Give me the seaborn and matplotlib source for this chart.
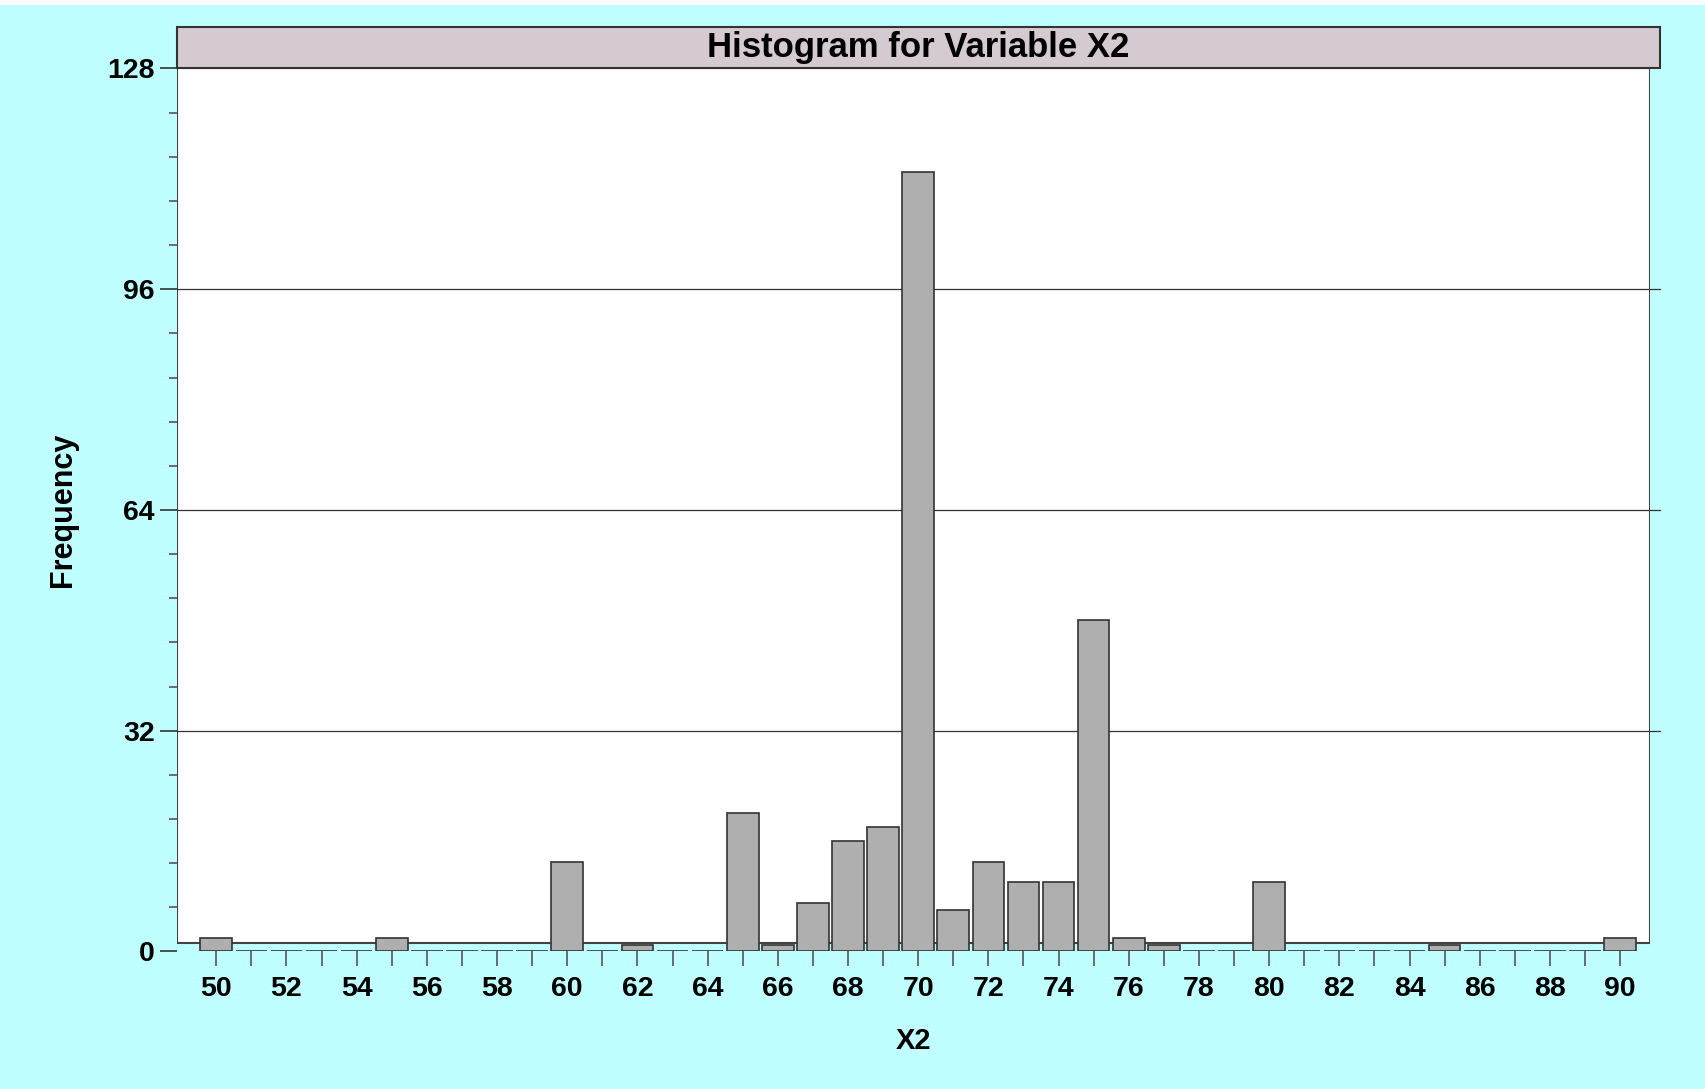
import numpy as np
import pandas as pd
import seaborn as sns
import matplotlib.pyplot as plt
from matplotlib.patches import Rectangle
from matplotlib.ticker import MultipleLocator


# =============================================================================
# DATA
# =============================================================================

# X2 values (one bin per integer) and their frequencies
X2_VALUES = list(range(50, 91))
FREQUENCIES = [2, 0, 0, 0, 0, 2, 0, 0, 0, 0,
               13, 0, 1, 0, 0, 20, 1, 7, 16, 18,
               113, 6, 13, 10, 10, 48, 2, 1, 0, 0,
               10, 0, 0, 0, 0, 1, 0, 0, 0, 0,
               2]
Y_TICKS = [0, 32, 64, 96, 128]
X_TICK_LABELS = [str(v) if v % 2 == 0 else "" for v in X2_VALUES]

TITLE = "Histogram for Variable X2"
X_LABEL = "X2"
Y_LABEL = "Frequency"

# Colours
BG_COLOR = "#C0FFFF"
TITLE_BOX_COLOR = "#D5CAD2"
BAR_COLOR = "#AFAFAF"
EDGE_COLOR = "#333333"

FONT = ["Liberation Sans", "DejaVu Sans"]


def histogram_plot(x_values, freqs, out_path="out.png"):
    """
    Draw the frequency histogram of X2 in the style of the original report.
    """
    df = pd.DataFrame({"X2": x_values, "Frequency": freqs})

    sns.set_style("white")
    plt.rcParams["font.family"] = FONT
    plt.rcParams["text.color"] = "black"
    plt.rcParams["axes.labelcolor"] = "black"
    plt.rcParams["xtick.labelcolor"] = "black"
    plt.rcParams["ytick.labelcolor"] = "black"

    fig = plt.figure(figsize=(17.05, 10.89), dpi=100, facecolor=BG_COLOR)
    # thin white strip along the top edge
    fig.add_artist(Rectangle((0, 1 - 5 / 1089), 1, 5 / 1089, transform=fig.transFigure,
                             facecolor="white", edgecolor="none"))

    ax = fig.add_axes([0.1038, 0.1263, 0.8639, 0.8108])
    ax.set_facecolor("none")

    # White plot frame, its bottom sits a little above the zero baseline
    ax.add_patch(Rectangle((0, 8.5 / 883), 1, 1 - 8.5 / 883, transform=ax.transAxes,
                           facecolor="white", edgecolor="#444444", linewidth=1.5,
                           zorder=0))

    # Horizontal grid lines (extend to the title box edge)
    for y in Y_TICKS[1:-1]:
        ax.axhline(y, xmin=0, xmax=1.0068, color="#333333", linewidth=0.9,
                   zorder=1, clip_on=False)

    sns.barplot(data=df, x="X2", y="Frequency", native_scale=True, width=0.9,
                color=BAR_COLOR, saturation=1, edgecolor=EDGE_COLOR,
                linewidth=1.2, zorder=2, ax=ax)

    ax.set_xlim(48.88, 90.85)
    ax.set_ylim(0, 128)

    for s in ax.spines.values():
        s.set_visible(False)

    # Y axis ticks
    ax.set_yticks(Y_TICKS)
    ax.set_yticklabels([str(v) for v in Y_TICKS], fontsize=20.5, fontweight="bold")
    ax.yaxis.set_minor_locator(MultipleLocator(6.4))
    ax.tick_params(axis="y", which="major", left=True, length=12.5, width=1.2,
                   color="#333333", pad=3.5)
    ax.tick_params(axis="y", which="minor", left=True, length=6, width=1.2,
                   color="#555555")

    # X axis ticks
    ax.set_xticks(x_values)
    ax.set_xticklabels(X_TICK_LABELS, fontsize=20.5, fontweight="bold")
    ax.tick_params(axis="x", which="major", bottom=True, length=10.5, width=1.2,
                   color="#555555", pad=7)

    ax.set_xlabel(X_LABEL, fontsize=21, fontweight="bold", labelpad=18)
    ax.set_ylabel(Y_LABEL, fontsize=22, fontweight="bold", labelpad=21)

    # Title box above the plot
    fig.add_artist(Rectangle((0.1038, 0.9371), 0.8698, 0.0381, transform=fig.transFigure,
                             facecolor=TITLE_BOX_COLOR, edgecolor="#333333", linewidth=1.5))
    fig.text(0.5387, 0.9562, TITLE, ha="center", va="center", fontsize=25,
             fontweight="bold")

    fig.savefig(out_path, dpi=100, facecolor=BG_COLOR)


histogram_plot(X2_VALUES, FREQUENCIES)
